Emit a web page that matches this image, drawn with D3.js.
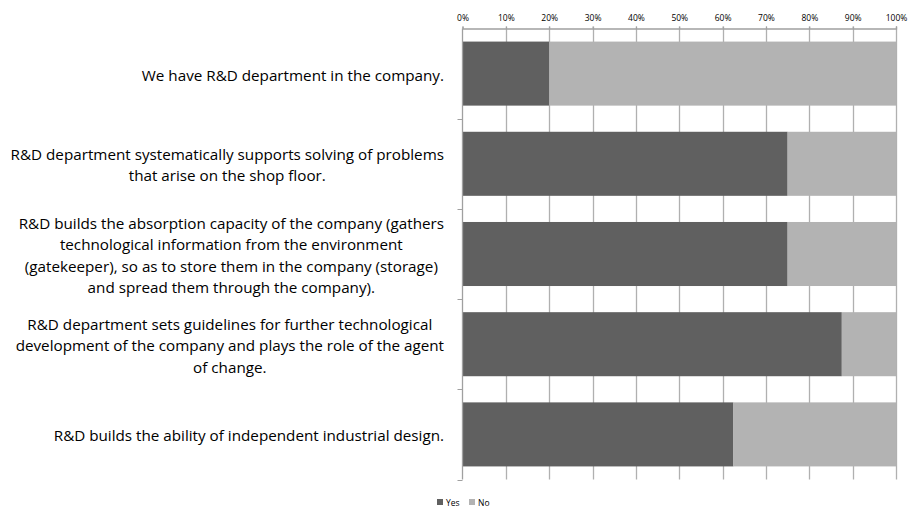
<!DOCTYPE html>
<meta charset="utf-8">
<style>
body { margin: 0; background: #fff; }
svg text { font-family: "Open Sans", "Liberation Sans", sans-serif; fill: #000; }
.grid line { stroke: #b0b0b0; stroke-width: 1.3px; }
.axis path, .axis line { stroke: #a0a0a0; }
</style>
<svg width="909" height="510"></svg>
<script src="https://d3js.org/d3.v7.min.js"></script>
<script>

var categories = [
  ["We have R&D department in the company."],
  ["R&D department systematically supports solving of problems", "that arise on the shop floor."],
  ["R&D builds the absorption capacity of the company (gathers", "technological information from the environment", "(gatekeeper), so as to store them in the company (storage)", "and spread them through the company)."],
  ["R&D department sets guidelines for further technological", "development of the company and plays the role of the agent", "of change."],
  ["R&D builds the ability of independent industrial design."]
];
var yesValues = [20, 75, 75, 87.5, 62.5];
var noValues = [80, 25, 25, 12.5, 37.5];
var seriesNames = ["Yes", "No"];
var seriesColors = ["#606060", "#b3b3b3"];
var tickValues = [0, 10, 20, 30, 40, 50, 60, 70, 80, 90, 100];

var svg = d3.select("svg"),
    plotL = 462.5, plotR = 896, plotT = 28.5, plotB = 479.5;

var x = d3.scaleLinear().domain([0, 100]).range([plotL, plotR]);
var y = d3.scaleBand().domain(d3.range(categories.length)).range([plotT, plotB]).paddingInner(0.29).paddingOuter(0.145);
var band = (plotB - plotT) / categories.length;

// gridlines
svg.append("g").attr("class", "grid")
  .selectAll("line").data(tickValues.slice(1)).enter().append("line")
    .attr("x1", function(d) { return Math.round(x(d)) + 0.5; })
    .attr("x2", function(d) { return Math.round(x(d)) + 0.5; })
    .attr("y1", plotT - 2).attr("y2", plotB);

// top axis
var xAxis = d3.axisTop(x).tickValues(tickValues).tickSize(2).tickPadding(6)
  .tickFormat(function(d) { return d + "%"; });
var gx = svg.append("g").attr("class", "axis").attr("transform", "translate(0," + plotT + ")").call(xAxis);
gx.selectAll("text").style("font-size", "8.5px").attr("fill", "#000");
gx.select(".domain").attr("stroke-width", 1.3);

// stacked bars
var rows = yesValues.map(function(v, i) { return [v, noValues[i]]; });
var stack = d3.stack().keys([0, 1])(rows);
svg.append("g").selectAll("g").data(stack).enter().append("g")
    .attr("fill", function(d, i) { return seriesColors[i]; })
  .selectAll("rect").data(function(d) { return d; }).enter().append("rect")
    .attr("x", function(d) { return x(d[0]); })
    .attr("width", function(d) { return x(d[1]) - x(d[0]); })
    .attr("y", function(d, i) { return y(i); })
    .attr("height", y.bandwidth());

// left axis with ticks between categories
var gy = svg.append("g").attr("class", "axis");
gy.append("line").attr("x1", plotL).attr("x2", plotL).attr("y1", plotT).attr("y2", plotB).attr("stroke-width", 1.3);
gy.selectAll(".tk").data(d3.range(1, categories.length + 1)).enter().append("line")
    .attr("class", "tk")
    .attr("x1", plotL - 5).attr("x2", plotL)
    .attr("y1", function(d) { return Math.round(plotT + d * band) + 0.5; })
    .attr("y2", function(d) { return Math.round(plotT + d * band) + 0.5; });

// category labels
var lineH = 21.3;
var labels = svg.append("g").selectAll("text").data(categories).enter().append("text")
    .attr("text-anchor", "middle")
    .style("font-size", "14px")
    .attr("y", function(d, i) { return y(i) + y.bandwidth() / 2 + 2 - (d.length - 1) * lineH / 2 + 5; });
labels.each(function(d) {
  var t = d3.select(this);
  d.forEach(function(line, j) {
    t.append("tspan").attr("dy", j ? lineH : 0).text(line);
  });
});
// fit font so the longest line spans the label column (9..444)
var maxW = 0;
labels.selectAll("tspan").each(function() { maxW = Math.max(maxW, this.getComputedTextLength()); });
labels.style("font-size", (14 * 434 / maxW) + "px");
// center each block so its widest line ends at x = 444
labels.each(function(d) {
  var t = d3.select(this), w = 0;
  t.selectAll("tspan").each(function() { w = Math.max(w, this.getComputedTextLength()); });
  var cx = 444 - w / 2;
  t.attr("x", cx);
  t.selectAll("tspan").attr("x", cx);
});

// legend
var lg = svg.append("g").attr("transform", "translate(437,499)");
var items = lg.selectAll("g").data(seriesNames).enter().append("g")
    .attr("transform", function(d, i) { return "translate(" + (i * 32) + ",0)"; });
items.append("rect").attr("width", 6).attr("height", 6).attr("fill", function(d, i) { return seriesColors[i]; });
items.append("text").attr("x", 9).attr("y", 7).style("font-size", "8.5px").text(function(d) { return d; });

</script>
